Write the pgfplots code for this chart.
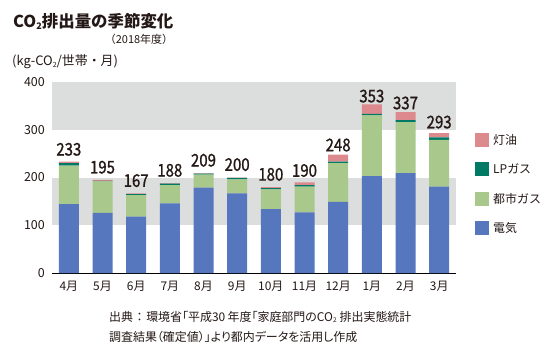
\documentclass[border=0pt]{standalone}
\usepackage{fontspec}
\setmainfont{Noto Sans CJK JP}
\newfontfamily\numfont[FakeStretch=0.86, FakeBold=1.2]{Noto Sans CJK JP}
\newfontfamily\paltfont[RawFeature=+palt]{Noto Sans CJK JP}
\usepackage{pgfplots}
\pgfplotsset{compat=1.18}
\usepackage{pgfplotstable}
\definecolor{elec}{HTML}{5677BD}
\definecolor{gasc}{HTML}{A9C88B}
\definecolor{lpc}{HTML}{007A65}
\definecolor{kero}{HTML}{DC8A8D}
\definecolor{band}{HTML}{DCDDDD}
\definecolor{txt}{HTML}{231815}
\newcommand{\sub}[1]{\raisebox{-0.12em}{\fontsize{0.55em}{0.55em}\selectfont #1}}
\pgfplotstableread{
x elec gas lp kero total
0 144 81 5 3 233
1 126 66 1 2 195
2 118 45 2 2 167
3 146 38 3 1 188
4 179 27 2 1 209
5 167 29 3 1 200
6 134 41 3 2 180
7 127 54 3 6 190
8 149 81 3 15 248
9 203 127 3 20 353
10 209 107 4 17 337
11 181 98 5 9 293
}\data
\begin{document}
\begin{tikzpicture}[every node/.style={text=txt}]
\path[use as bounding box] (0,0) rectangle (556bp,-350bp);
\begin{axis}[
  at={(52bp,-273bp)}, anchor=south west,
  scale only axis, width=404bp, height=191bp,
  xmin=-0.5, xmax=11.5, ymin=0, ymax=400,
  hide axis,
]
\fill[band] (axis cs:-0.5,100) rectangle (axis cs:11.5,200);
\fill[band] (axis cs:-0.5,300) rectangle (axis cs:11.5,400);
\end{axis}
\begin{axis}[
  at={(52bp,-273bp)}, anchor=south west,
  scale only axis, width=404bp, height=191bp,
  xmin=-0.5, xmax=11.5, ymin=0, ymax=400,
  ybar stacked, bar width=20bp,
  xtick={0,...,11},
  xticklabels={4月,5月,6月,7月,8月,9月,10月,11月,12月,1月,2月,3月},
  ytick={0,100,200,300,400},
  major tick length=0pt,
  axis x line*=bottom, axis y line*=left,
  y axis line style={draw=none},
  x axis line style={-, black, line width=0.7pt},
  /pgf/number format/assume math mode=true,
  tick label style={font=\fontsize{12.5}{12.5}\selectfont, text=txt, inner sep=0pt},
  yticklabel style={xshift=-7bp},
  xticklabel style={yshift=-8bp, font=\fontsize{12}{12}\selectfont},
  reverse legend,
  legend image code/.code={\fill[#1,draw=none] (0bp,-7bp) rectangle (14bp,7bp);},
  legend style={at={(1.047,0.735)}, anchor=north west, draw=none, fill=none,
    inner sep=0pt, row sep=15.5bp, font=\fontsize{12}{12}\selectfont,
    nodes={inner sep=0pt, text=txt},
    /tikz/every odd column/.append style={column sep=4bp}},
  legend cell align=left,
]
\addplot[fill=elec, draw=none] table[x=x,y=elec]{\data};
\addplot[fill=gasc, draw=none] table[x=x,y=gas]{\data};
\addplot[fill=lpc, draw=none] table[x=x,y=lp]{\data};
\addplot[fill=kero, draw=none, point meta=explicit symbolic,
  nodes near coords={\pgfplotspointmeta},
  nodes near coords style={anchor=south, inner sep=0pt, yshift=6.5bp, text=txt,
    font=\numfont\fontsize{17.5}{17.5}\selectfont}] table[x=x,y=kero,meta=total]{\data};
\legend{電気,都市ガス,LPガス,灯油}
\end{axis}
\node[anchor=west, inner sep=0pt, font=\bfseries\fontsize{16.5}{16.5}\selectfont] at (13bp,-21.5bp) {CO\sub{2}排出量の季節変化};
\node[anchor=center, inner sep=0pt, font=\fontsize{11}{11}\selectfont] at (139bp,-39bp) {（2018年度）};
\node[anchor=west, inner sep=0pt, font=\fontsize{13}{13}\selectfont] at (12bp,-62bp) {(kg-CO\sub{2}/世帯・月)};
\node[anchor=west, inner sep=0pt, font=\paltfont\fontsize{12}{12}\selectfont] at (109bp,-317bp) {出典\hspace{0.3em}：\hspace{0.3em}環境省「平成30\hspace{0.2em}年度「家庭部門のCO\sub{2}\hspace{0.25em}排出実態統計};
\node[anchor=west, inner sep=0pt, font=\paltfont\fontsize{12}{12}\selectfont] at (109bp,-337bp) {調査結果（確定値）」より都内データを活用し作成};
\end{tikzpicture}
\end{document}
